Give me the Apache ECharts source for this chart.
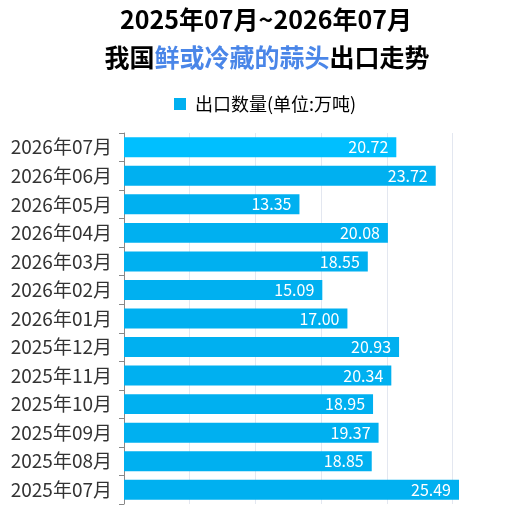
<!DOCTYPE html>
<html>
<head>
<meta charset="utf-8">
<script src="https://cdn.jsdelivr.net/npm/echarts@6/dist/echarts.min.js"></script>
<style>
  html, body { margin: 0; padding: 0; background: #fff; }
  #main { width: 511px; height: 518px; }
</style>
</head>
<body>
<div id="main"></div>
<script>
// 月份（自下而上，时间顺序）
const months = ['2025年07月', '2025年08月', '2025年09月', '2025年10月', '2025年11月', '2025年12月',
  '2026年01月', '2026年02月', '2026年03月', '2026年04月', '2026年05月', '2026年06月', '2026年07月']
// 出口数量（万吨）
const exportVolume = [25.49, 18.85, 19.37, 18.95, 20.34, 20.93, 17.00, 15.09, 18.55, 20.08, 13.35, 23.72, 20.72]
const seriesName = '出口数量(单位:万吨)'

const font = 'Noto Sans CJK SC'
const myChart = echarts.init(document.getElementById('main'))

const option = {
  backgroundColor: '#fff',
  textStyle: { fontFamily: font },
  title: [
    {
      text: '2025年07月~2026年07月',
      left: 266,
      textAlign: 'center',
      top: 7,
      padding: 0,
      textStyle: { fontFamily: font, fontSize: 25, fontWeight: 'bold', color: '#000' }
    },
    {
      text: '{b|我国}{h|鲜或冷藏的蒜头}{b|出口走势}',
      left: 267,
      textAlign: 'center',
      top: 45,
      padding: 0,
      textStyle: {
        rich: {
          b: { fontFamily: font, fontSize: 25, fontWeight: 'bold', color: '#000' },
          h: { fontFamily: font, fontSize: 25, fontWeight: 'bold', color: '#4A86E8' }
        }
      }
    }
  ],
  legend: {
    data: [seriesName],
    top: 95,
    left: 174,
    padding: 0,
    icon: 'rect',
    itemWidth: 12,
    itemHeight: 12,
    itemGap: 10,
    textStyle: { fontFamily: font, fontSize: 18, color: '#000', padding: [0, 0, 0, 4] }
  },
  grid: {
    left: 124,
    right: 52,
    top: 133,
    bottom: 14
  },
  xAxis: {
    type: 'value',
    min: 0,
    max: 'dataMax',
    interval: 5,
    axisLabel: { show: false },
    axisLine: { show: false },
    axisTick: { show: false },
    splitLine: { showMaxLine: false, lineStyle: { color: '#E3E7F0' } }
  },
  yAxis: {
    type: 'category',
    data: months,
    axisLine: { show: true, lineStyle: { color: '#888' } },
    axisTick: { show: true, length: 5, lineStyle: { color: '#888' } },
    axisLabel: { fontFamily: font, fontSize: 19, color: '#333', margin: 12 }
  },
  series: [
    {
      name: seriesName,
      type: 'bar',
      barWidth: '70%',
      itemStyle: { color: '#00B0F0' },
      data: exportVolume.map((v, i) =>
        i === exportVolume.length - 1 ? { value: v, itemStyle: { color: '#00BFFF' } } : v
      ),
      label: {
        show: true,
        position: 'insideRight',
        distance: 8,
        color: '#fff',
        fontFamily: font,
        fontSize: 16,
        formatter: p => p.value.toFixed(2)
      }
    }
  ]
}
option && myChart.setOption(option)
</script>
</body>
</html>
